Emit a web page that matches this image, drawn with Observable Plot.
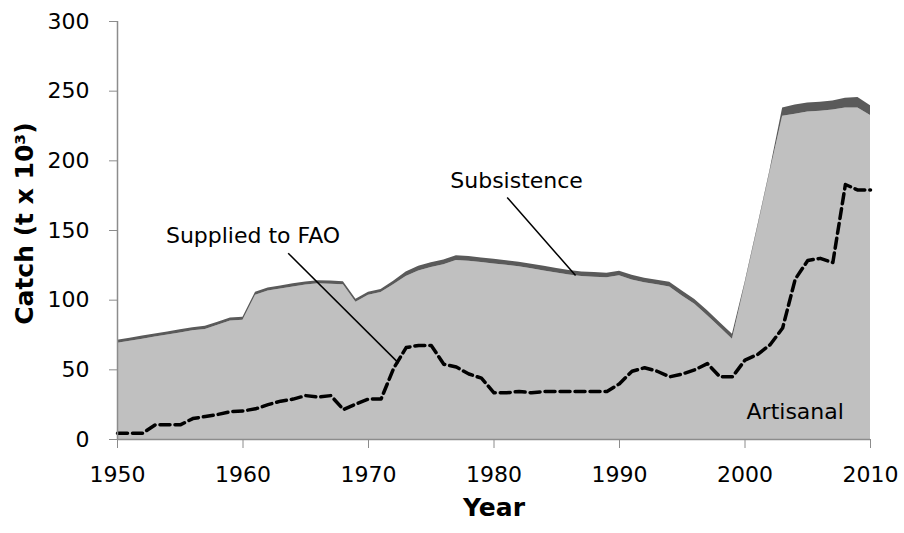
<!DOCTYPE html>
<html>
<head>
<meta charset="utf-8">
<script src="https://cdn.jsdelivr.net/npm/d3@7"></script>
<script src="https://cdn.jsdelivr.net/npm/@observablehq/plot@0.6"></script>
<style>
  html, body { margin: 0; padding: 0; background: white; }
</style>
</head>
<body>
<div id="chart"></div>
<script>
const years = [1950,1951,1952,1953,1954,1955,1956,1957,1958,1959,
  1960,1961,1962,1963,1964,1965,1966,1967,1968,1969,
  1970,1971,1972,1973,1974,1975,1976,1977,1978,1979,
  1980,1981,1982,1983,1984,1985,1986,1987,1988,1989,
  1990,1991,1992,1993,1994,1995,1996,1997,1998,1999,
  2000,2001,2002,2003,2004,2005,2006,2007,2008,2009,2010];

const artisanal = [69,70.5,72,73.5,75,76.5,78,79,82,85,
  85.5,103.5,106.5,108,109.5,110.8,111.8,111.5,111,98.5,
  103.5,105.5,111,117,121,123.5,125.5,128.5,128,127,
  126,125,124,122.5,121,119.5,118,117,116.5,116,
  117.5,114.5,112.5,111,109.5,103,97,89,80.5,72,
  111,151,192,232,233.5,235,235.5,236.5,238,238,232.5];

const subsistence = [2.2,2.2,2.2,2.2,2.2,2.2,2.2,2.2,2.2,2.2,
  2.2,2.2,2.2,2.2,2.2,2.2,2.2,2.2,2.2,2.2,
  2.2,2.2,2.5,3.2,3.3,3.3,3.3,3.3,3.3,3.3,
  3.3,3.3,3.3,3.3,3.3,3.3,3.3,3.3,3.3,3.3,
  3.3,3.3,3.3,3.3,3.3,3.5,3.5,3.5,3.5,3.5,
  1.5,1.5,1.5,6,6.5,6.5,6.5,6.5,7,7.5,7];

const suppliedToFAO = [4.5,4.5,4.5,10.5,10.5,10.5,15,16.5,18,20,
  20.5,22,25,27.5,29,31.5,30.5,31.5,21.5,25.5,
  29,29,51,66,67.5,67.5,54,52,47,44,
  33.5,33.5,34.5,33.5,34.5,34.5,34.5,34.5,34.5,34.5,
  40,49,51.5,49,45,47,50,54.5,45,45,
  57,61,68,80,115,128.5,130,127,183,179,179];

const xTicks = [1950,1960,1970,1980,1990,2000,2010];
const yTicks = [0,50,100,150,200,250,300];

// annotation labels and leader lines (data units)
const labelTexts = ["Supplied to FAO", "Subsistence", "Artisanal"];
const labelX = [1960.8, 1981.8, 2004.0];
const labelY = [145.8, 185.6, 19.8];
const leaderFrom = [[1963.6, 133.7], [1981.05, 173.7]];
const leaderTo = [[1972.4, 54.8], [1986.5, 117.7]];

const xTitle = "Year";
const yTitle = "Catch (t x 10³)";

const data = years.map((year, i) => ({year, art: artisanal[i], sub: subsistence[i], fao: suppliedToFAO[i]}));
const labels = labelTexts.map((t, i) => ({t, x: labelX[i], y: labelY[i]}));
const leaders = leaderFrom.map((f, i) => ({x1: f[0], y1: f[1], x2: leaderTo[i][0], y2: leaderTo[i][1]}));

const chart = Plot.plot({
  width: 904,
  height: 533,
  marginLeft: 117,
  marginRight: 34,
  marginTop: 21,
  marginBottom: 94,
  style: {fontFamily: "DejaVu Sans", fontSize: "22px", color: "black", background: "white", overflow: "visible"},
  x: {domain: [1950, 2010]},
  y: {domain: [0, 300]},
  marks: [
    Plot.areaY(data, {x: "year", y: "art", fill: "#c0c0c0"}),
    Plot.areaY(data, {x: "year", y1: "art", y2: d => d.art + d.sub, fill: "#5a5a5a"}),
    Plot.line(data, {x: "year", y: "fao", stroke: "black", strokeWidth: 3.5, strokeDasharray: "10,5"}),
    Plot.link(leaders, {x1: "x1", y1: "y1", x2: "x2", y2: "y2", stroke: "black", strokeWidth: 1.5}),
    Plot.text(labels, {x: "x", y: "y", text: "t", fontSize: 22, fill: "black"}),
    Plot.ruleY([0], {stroke: "#8c8c8c", strokeWidth: 1.5}),
    Plot.ruleX([1950], {stroke: "#8c8c8c", strokeWidth: 1.5}),
    Plot.axisX({ticks: xTicks, tickSize: 9, tickPadding: 18, tickFormat: d => String(d), label: null, stroke: "#8c8c8c", fill: "black"}),
    Plot.axisY({ticks: yTicks, tickSize: 8, tickPadding: 20, label: null, stroke: "#8c8c8c", fill: "black"}),
    Plot.text([{t: xTitle, x: 1980}], {x: "x", text: "t", frameAnchor: "bottom", dy: 76, fontSize: 25, fontWeight: "bold", fill: "black"}),
    Plot.text([{t: yTitle, y: 155}], {y: "y", text: "t", frameAnchor: "left", textAnchor: "middle", dx: -93, rotate: -90, fontSize: 25, fontWeight: "bold", fill: "black"})
  ]
});
document.getElementById("chart").append(chart);
</script>
</body>
</html>
